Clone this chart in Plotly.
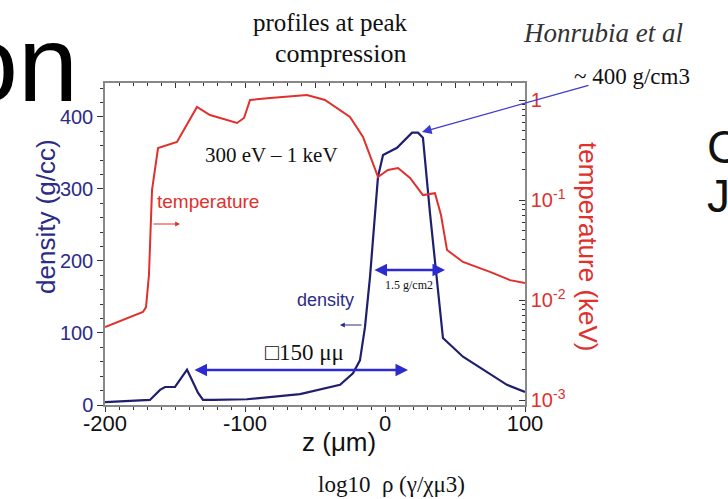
import plotly.graph_objects as go

# ---- data ----
temp_z = [-200, -172.9, -170.7, -168.6, -166.4, -162.1, -148.6, -134.3, -125, -105.7, -100.7,
          -96.4, -82, -55.7, -42.9, -32.1, -25, -15.7, -5, 2.1, 9.3, 17.9, 27.1, 35.7, 40,
          44.3, 55.7, 75, 89.3, 100]
temp_keV = [0.00537, 0.00759, 0.0085, 0.0178, 0.126, 0.331, 0.380, 0.851, 0.708, 0.589, 0.661,
            1.0, 1.047, 1.122, 1.0, 0.794, 0.676, 0.427, 0.170, 0.200, 0.209, 0.166, 0.112, 0.117, 0.0708,
            0.0316, 0.0240, 0.0191, 0.0158, 0.0148]

dens_z = [-200, -182, -167.9, -160.7, -157.1, -150, -141.4, -133.6, -130, -122.9, -98.6, -60.7,
          -32.1, -22.9, -17.9, -14.3, -10.7, -5, -1.4, 8.6, 15.7, 19.3, 23.6, 27.1, 32.1, 37.1,
          41.4, 55.7, 72.9, 87.1, 100]
dens_gcc = [4, 5.5, 7, 21, 25, 25, 49, 17, 7, 7, 8, 15, 28, 44, 62, 108, 178, 317, 347, 357, 371,
            378, 378, 371, 267, 174, 93, 67, 46, 28, 18]

x_ticks = [-200, -100, 0, 100]
x_ticktext = ["-200", "-100", "0", "100"]
y_ticks = [0, 100, 200, 300, 400]
t_ticks = [1, 0.1, 0.01, 0.001]
t_ticktext = ["1", "10<sup>-1</sup>", "10<sup>-2</sup>", "10<sup>-3</sup>"]

W, H = 728, 499
def px(x):
    return x / W
def py(y):
    return 1 - y / H

RED = "#e0302c"
NAVY = "#1f1f6e"
NAVY_T = "#2c2c85"
BLUE = "#2b2bd0"
GRAY = "#888888"

fig = go.Figure()
fig.add_trace(go.Scatter(x=temp_z, y=temp_keV, mode="lines", yaxis="y2",
                         line=dict(color=RED, width=2), hoverinfo="skip"))
fig.add_trace(go.Scatter(x=dens_z, y=dens_gcc, mode="lines",
                         line=dict(color=NAVY, width=2.2), hoverinfo="skip"))

xdom = [px(105), px(525)]
ydom = [py(405), py(83)]

minor_log = [k * 10.0 ** e for e in (-4, -3, -2, -1, 0) for k in range(2, 10)]

fig.update_layout(
    width=W, height=H, margin=dict(l=0, r=0, t=0, b=0, autoexpand=False),
    paper_bgcolor="white", plot_bgcolor="white", showlegend=False,
    xaxis=dict(domain=xdom, range=[-200, 100], tickvals=x_ticks, ticktext=x_ticktext,
               showgrid=False, zeroline=False, automargin=False, ticklabelstandoff=-7,
               showline=True, linecolor=GRAY, linewidth=1.5, ticks="outside", ticklen=5,
               tickcolor="#333", minor=dict(dtick=10, ticks="outside", ticklen=3, tickcolor="#333"),
               tickfont=dict(family="Liberation Sans", size=22, color="#111")),
    xaxis2=dict(domain=xdom, range=[-200, 100], overlaying="x", side="top", showgrid=False,
                zeroline=False, showline=True, linecolor=GRAY, linewidth=1.5, ticks="inside",
                automargin=False,
                tickvals=[-200, -150, -100, -50, 0, 50, 100], ticklen=5, tickcolor="#333",
                showticklabels=False, minor=dict(dtick=10, ticks="inside", ticklen=3, tickcolor="#333")),
    yaxis=dict(domain=ydom, range=[0, 447], tickvals=y_ticks, showgrid=False, zeroline=False,
               automargin=False,
               showline=True, linecolor=GRAY, linewidth=1.5, ticks="outside", ticklen=6,
               tickcolor="#333", minor=dict(dtick=20, ticks="outside", ticklen=3, tickcolor="#333"),
               tickfont=dict(family="Liberation Sans", size=20, color=NAVY_T)),
    yaxis2=dict(domain=ydom, type="log", range=[-3.05, 0.17], overlaying="y", side="right",
                anchor="x", tickvals=t_ticks, ticktext=t_ticktext, showgrid=False, zeroline=False,
                automargin=False,
                showline=True, linecolor=GRAY, linewidth=1.5, ticks="inside", ticklen=6,
                tickcolor="#333", minor=dict(tickvals=minor_log, ticks="inside", ticklen=3, tickcolor="#333"),
                tickfont=dict(family="Liberation Sans", size=20, color=RED)),
)

# hidden trace to activate top axis
fig.add_trace(go.Scatter(x=[None], y=[None], xaxis="x2", yaxis="y", showlegend=False))

ann = []
def text(x, y, s, size, color="#111", family="Liberation Serif", angle=0, xanchor="center"):
    ann.append(dict(x=px(x), y=py(y), xref="paper", yref="paper", text=s, showarrow=False,
                    font=dict(family=family, size=size, color=color), textangle=angle,
                    xanchor=xanchor, yanchor="middle"))

def arrow(x0, y0, x1, y1, color, width=2, head=2, size=1.0, both=False):
    ann.append(dict(x=px(x1), y=py(y1), ax=x0 - x1, ay=y0 - y1, xref="paper", yref="paper",
                    axref="pixel", ayref="pixel", text="", showarrow=True, arrowhead=head,
                    arrowsize=size, arrowwidth=width, arrowcolor=color, standoff=0, startstandoff=0,
                    startarrowhead=head, startarrowsize=size,
                    arrowside="end+start" if both else "end"))

text(330, 22, "profiles at peak", 25)
text(340, 53, "compression", 26)
text(603, 33, "<i>Honrubia et al</i>", 27, color="#333")
text(632, 76, "~ 400 g/cm3", 23)
text(271, 155, "300 eV \u2013 1 keV", 21)
text(208, 202, "temperature", 19, color=RED, family="Liberation Sans")
text(325, 300, "density", 18, color=NAVY_T, family="Liberation Sans")
text(409, 285, "1.5 g/cm2", 12)
text(304, 352, "\u25a1150 \u03bc\u03bc", 23)
text(339, 442, "z (\u03bcm)", 26, family="Liberation Sans")
text(391, 484, "log10  \u03c1 (\u03b3/\u03c7\u03bc3)", 23)
text(46, 217, "density (g/cc)", 26, color=NAVY_T, family="Liberation Sans", angle=-90)
text(588, 247, "temperature (keV)", 26, color=RED, family="Liberation Sans", angle=90)
text(80, 63, "on", 108, color="#000", family="Liberation Sans", xanchor="right")
text(705, 147, "C", 46, color="#111", family="Liberation Sans", xanchor="left")
text(705, 196, "J", 46, color="#111", family="Liberation Sans", xanchor="left")

arrow(590, 85, 422, 132, "#3a3ad0", width=1.2, head=2, size=1.6)
arrow(152, 224, 180, 224, RED, width=1.2, head=2, size=0.8)
arrow(363, 325, 340, 325, NAVY_T, width=1.2, head=2, size=0.8)
arrow(373, 270, 445, 270, BLUE, width=2.5, head=2, size=1.0, both=True)
arrow(193, 370, 408, 370, BLUE, width=2.5, head=2, size=1.0, both=True)

fig.update_layout(annotations=ann)
fig.write_html("out.html")
